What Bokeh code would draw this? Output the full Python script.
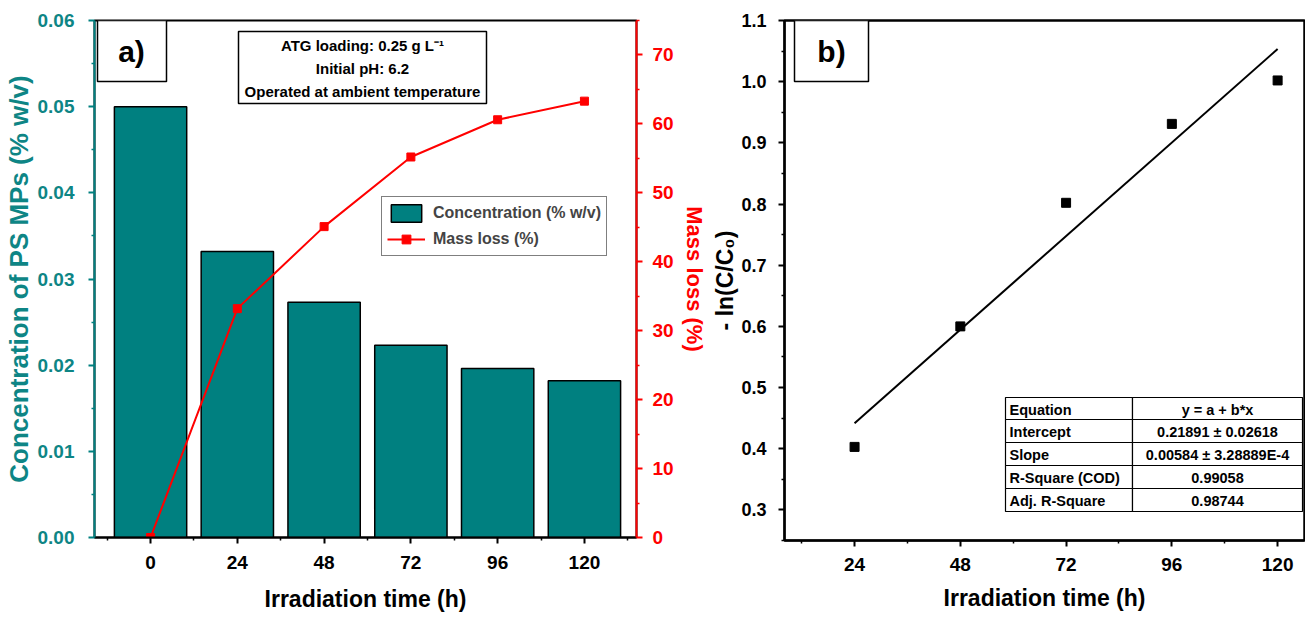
import numpy as np
from bokeh.plotting import figure
from bokeh.models import (Range1d, LinearAxis, FixedTicker, Legend, LegendItem,
                          NumeralTickFormatter)
from bokeh.layouts import row
from bokeh.embed import file_html
from bokeh.resources import INLINE
from bokeh.core.properties import value

# ---------------- data ----------------
time_h = [0, 24, 48, 72, 96, 120]
concentration = [0.0500, 0.0332, 0.0273, 0.0223, 0.0196, 0.0182]   # % w/v
mass_loss = [0.0, 33.2, 45.1, 55.2, 60.6, 63.3]                      # %

kin_time = [24, 48, 72, 96, 120]
neg_ln_c = [0.403, 0.600, 0.802, 0.931, 1.002]

info_lines = ["ATG loading: 0.25 g L\u207b\u00b9", "Initial pH: 6.2",
              "Operated at ambient temperature"]
table_left = ["Equation", "Intercept", "Slope", "R-Square (COD)", "Adj. R-Square"]
table_right = ["y = a + b*x", "0.21891 \u00b1 0.02618", "0.00584 \u00b1 3.28889E-4",
               "0.99058", "0.98744"]

# ---------------- style ----------------
REG = "'Liberation Sans', Arial, sans-serif"
TEAL = "#008080"
TEAL_TXT = "#0e8585"
RED = "#ff0000"


def style_axis(ax, color="black", tick_size="19px", label_size="23px",
               standoff=12, label_standoff=10):
    ax.axis_line_color = color
    ax.axis_line_width = 2
    ax.major_tick_line_color = color
    ax.minor_tick_line_color = color
    ax.major_tick_line_width = 2
    ax.minor_tick_line_width = 1.5
    ax.major_tick_in = 0
    ax.major_tick_out = 6
    ax.minor_tick_in = 0
    ax.minor_tick_out = 3
    ax.major_label_text_font = REG
    ax.major_label_text_font_style = "bold"
    ax.major_label_text_font_size = tick_size
    ax.major_label_text_color = TEAL_TXT if color == TEAL else color
    ax.major_label_standoff = standoff
    ax.axis_label_text_font = REG
    ax.axis_label_text_font_style = "bold"
    ax.axis_label_text_font_size = label_size
    ax.axis_label_text_color = TEAL_TXT if color == TEAL else color
    ax.axis_label_standoff = label_standoff


# ================= panel a =================
FA = dict(left=93, top=20, w=542, h=517)
XA = (-15.5, 134.4)
YA = (0.0, 0.06)


def pa_xy(px, py):
    x = XA[0] + (px - FA["left"]) / FA["w"] * (XA[1] - XA[0])
    y = YA[1] - (py - FA["top"]) / FA["h"] * (YA[1] - YA[0])
    return x, y


pa = figure(frame_width=FA["w"], frame_height=FA["h"], output_backend="svg",
            toolbar_location=None, x_range=Range1d(*XA), y_range=Range1d(*YA),
            min_border_left=93, min_border_right=60, min_border_top=20,
            min_border_bottom=76)
pa.extra_y_ranges = {"ml": Range1d(0, 75)}
pa.grid.visible = False
pa.outline_line_color = "black"
pa.outline_line_width = 2
pa.background_fill_color = "white"

bars = pa.vbar(x=time_h, top=concentration, width=20, bottom=0,
               fill_color=TEAL, line_color="black", line_width=1.5)
ml_line = pa.line(time_h, mass_loss, y_range_name="ml", line_color=RED, line_width=2)
ml_pts = pa.scatter(time_h, mass_loss, y_range_name="ml", marker="square", size=8,
                    fill_color=RED, line_color=RED)

xa = pa.xaxis[0]
xa.ticker = FixedTicker(ticks=time_h, minor_ticks=[-12, 12, 36, 60, 84, 108, 132])
xa.axis_label = "Irradiation time (h)"
style_axis(xa, "black", tick_size="19px", label_size="23px", standoff=12,
           label_standoff=14)

ya = pa.yaxis[0]
ya.ticker = FixedTicker(ticks=[0, 0.01, 0.02, 0.03, 0.04, 0.05, 0.06],
                        minor_ticks=[0.005, 0.015, 0.025, 0.035, 0.045, 0.055])
ya.formatter = NumeralTickFormatter(format="0.00")
ya.axis_label = "Concentration of PS MPs (% w/v)"
style_axis(ya, TEAL, tick_size="19px", label_size="26px", standoff=14,
           label_standoff=1)

ra = LinearAxis(y_range_name="ml", axis_label="Mass loss (%)")
ra.ticker = FixedTicker(ticks=[0, 10, 20, 30, 40, 50, 60, 70],
                        minor_ticks=[5, 15, 25, 35, 45, 55, 65, 75])
style_axis(ra, RED, tick_size="19px", label_size="22px", standoff=10,
           label_standoff=5)
pa.add_layout(ra, "right")

# "a)" box
l, b = pa_xy(96, 81)
r, t = pa_xy(165, 20)
pa.quad(left=[l], right=[r], bottom=[b], top=[t], fill_color="white",
        line_color="black", line_width=1.5)
cx, cy = pa_xy(130, 51)
pa.text(x=[cx], y=[cy], text=["a)"], text_font=value(REG), text_font_style="bold",
        text_font_size="30px", text_align="center", text_baseline="middle",
        text_color="black")

# info box
l, b = pa_xy(237, 103)
r, t = pa_xy(485, 31)
pa.quad(left=[l], right=[r], bottom=[b], top=[t], fill_color="white",
        line_color="black", line_width=1.5)
ix, _ = pa_xy(361, 0)
iys = [pa_xy(0, py)[1] for py in (45, 68, 91)]
pa.text(x=[ix] * 3, y=iys, text=info_lines, text_font=value(REG),
        text_font_style="bold", text_font_size="15px", text_align="center",
        text_baseline="middle", text_color="black")

legend = Legend(items=[LegendItem(label="Concentration (% w/v)", renderers=[bars]),
                       LegendItem(label="Mass loss (%)", renderers=[ml_line, ml_pts])],
                location=(287, 281), orientation="vertical")
legend.label_text_font = REG
legend.label_text_font_style = "bold"
legend.label_text_font_size = "16px"
legend.glyph_width = 38
legend.glyph_height = 22
legend.label_height = 22
legend.label_standoff = 8
legend.padding = 5
legend.spacing = 4
legend.margin = 0
legend.border_line_color = "black"
legend.border_line_width = 1.5
legend.background_fill_alpha = 1
pa.add_layout(legend)

# ================= panel b =================
FB = dict(left=780, top=20, w=520, h=520)
XB = (8.1, 126.1)
YB = (0.25, 1.1)


def pb_xy(px, py):
    x = XB[0] + (px - FB["left"]) / FB["w"] * (XB[1] - XB[0])
    y = YB[1] - (py - FB["top"]) / FB["h"] * (YB[1] - YB[0])
    return x, y


pb = figure(frame_width=FB["w"], frame_height=FB["h"], output_backend="svg",
            toolbar_location=None, x_range=Range1d(*XB), y_range=Range1d(*YB),
            min_border_left=60, min_border_right=1, min_border_top=20,
            min_border_bottom=73)
pb.grid.visible = False
pb.outline_line_color = "black"
pb.outline_line_width = 2.5

slope, intercept = np.polyfit(kin_time, neg_ln_c, 1)
fit_x = [kin_time[0], kin_time[-1]]
fit_y = [intercept + slope * v for v in fit_x]
pb.line(fit_x, fit_y, line_color="black", line_width=2)
pb.scatter(kin_time, neg_ln_c, marker="square", size=9, fill_color="black",
           line_color="black")

xb = pb.xaxis[0]
xb.ticker = FixedTicker(ticks=kin_time, minor_ticks=[12, 36, 60, 84, 108])
xb.axis_label = "Irradiation time (h)"
style_axis(xb, "black", tick_size="19px", label_size="23px", standoff=11,
           label_standoff=11)

yb = pb.yaxis[0]
yb.ticker = FixedTicker(ticks=[0.3, 0.4, 0.5, 0.6, 0.7, 0.8, 0.9, 1.0, 1.1],
                        minor_ticks=[0.25, 0.35, 0.45, 0.55, 0.65, 0.75, 0.85, 0.95, 1.05])
yb.formatter = NumeralTickFormatter(format="0.0")
yb.axis_label = "- ln(C/C\u2080)"
style_axis(yb, "black", tick_size="18px", label_size="23px", standoff=12,
           label_standoff=0)

# "b)" box
l, b = pb_xy(790, 81)
r, t = pb_xy(864, 20)
pb.quad(left=[l], right=[r], bottom=[b], top=[t], fill_color="white",
        line_color="black", line_width=1.5)
cx, cy = pb_xy(827, 51)
pb.text(x=[cx], y=[cy], text=["b)"], text_font=value(REG), text_font_style="bold",
        text_font_size="30px", text_align="center", text_baseline="middle",
        text_color="black")

# results table
row_edges = [397, 419, 442, 465, 488, 511]
col_edges = [1001, 1128, 1298]
lefts, rights, bottoms, tops = [], [], [], []
for i in range(5):
    for j in range(2):
        x0, y0 = pb_xy(col_edges[j], row_edges[i + 1])
        x1, y1 = pb_xy(col_edges[j + 1], row_edges[i])
        lefts.append(x0); rights.append(x1); bottoms.append(y0); tops.append(y1)
pb.quad(left=lefts, right=rights, bottom=bottoms, top=tops, fill_color="white",
        line_color="black", line_width=1.2)
row_cy = [pb_xy(0, (row_edges[i] + row_edges[i + 1]) / 2 + 1)[1] for i in range(5)]
lx, _ = pb_xy(1005, 0)
rx, _ = pb_xy(1213, 0)
pb.text(x=[lx] * 5, y=row_cy, text=table_left, text_font=value(REG),
        text_font_style="bold", text_font_size="14.5px", text_align="left",
        text_baseline="middle", text_color="black")
pb.text(x=[rx] * 5, y=row_cy, text=table_right, text_font=value(REG),
        text_font_style="bold", text_font_size="14.5px", text_align="center",
        text_baseline="middle", text_color="black")

layout = row(pa, pb)
open("out.html", "w").write(file_html(layout, INLINE))
